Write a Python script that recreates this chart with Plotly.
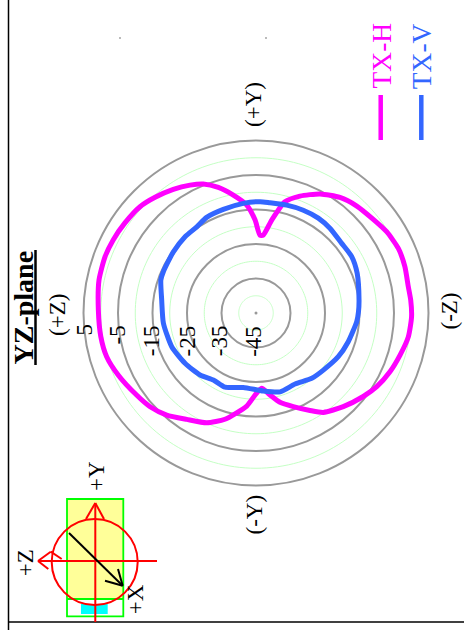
import plotly.graph_objects as go

W, H = 464, 630

tx_h_angle = [5.3, 9.6, 14.6, 20.6, 28.3, 36, 43.3, 51.4, 58.1, 65.6, 72.7, 80.2, 85.2, 91.4, 98.8, 106.3, 113.7,
              121.4, 127.9, 137, 145.9, 151, 158.3, 165, 170.3, 175.7, 180.7, 185.7, 196.3, 204.2, 213.1, 221.2,
              228.5, 235.5, 245.8, 253.7, 261.3, 271, 281.9, 290.4, 297.1, 304.5, 312.5, 318.9, 326.2, 332.7,
              337.8, 343.3, 349.1, 355.1, 359.4, 362.9, 365.3]
tx_h_db = [-22.3, -17.7, -11.7, -8.8, -5.8, -3.6, -2.4, -1.5, -0.4, 0.3, 0.2, -0.2, 0, 0.1, -0.3, -1.5, -2.6,
           -4, -5.6, -7.9, -10.2, -12.7, -15.8, -18.2, -20.9, -23.1, -21.2, -17.9, -12.9, -10.1, -8.2, -5.7,
           -4, -3, -1.2, 0.1, 0.5, 0.7, 1.5, 1.7, 1.5, 1.1, 0.6, -0.5, -1.9, -3.3,
           -4.6, -7, -10.2, -13.6, -18, -22.4, -22.3]

tx_v_angle = [2.1, 7.2, 15.9, 24.7, 33.3, 41.1, 50.9, 59.5, 68.6, 82.8, 89.4, 94.9, 107.3, 118, 130.3, 139.5, 151.2,
              163, 174.7, 189.7, 202.6, 212.5, 222.1, 234.7, 248.2, 263.7, 277.9, 289.2, 294, 306.5, 317.1, 325.5,
              332.7, 342.5, 353.4, 362.1]
tx_v_db = [-12.7, -12.8, -12.5, -12.2, -12.1, -12.4, -13, -12.8, -13.5, -14.9, -15.3, -15.7, -17, -18, -19.4, -20.1, -21.5,
           -21.1, -22.3, -23.1, -21.7, -22, -20.8, -19.8, -18.7, -18, -17.4, -15.8, -15.6, -15.2, -14.8, -14.7,
           -13.8, -13.5, -13, -12.7]

major_rings = [-45, -35, -25, -15, -5, 5]
minor_rings = [-40, -30, -20, -10, 0]
ring_labels = ["5", "-5", "-15", "-25", "-35", "-45"]

MAGENTA = "#ff00ff"
BLUE = "#3366ff"
GREY = "#999999"
PALE = "#c4ffc4"
RED = "#ff0000"
LIME = "#00ff00"
SERIF = "Liberation Serif"


def px(x):
    return x / W


def py(y):
    return 1 - y / H


fig = go.Figure()
ring_theta = list(range(0, 361, 2))
for ring in minor_rings:
    fig.add_trace(go.Scatterpolar(r=[ring] * len(ring_theta), theta=ring_theta, mode="lines",
                                  line=dict(color=PALE, width=1), showlegend=False, hoverinfo="skip"))
fig.add_trace(go.Scatterpolar(r=[-45], theta=[0], mode="markers", marker=dict(color=GREY, size=3), showlegend=False))
fig.add_trace(go.Scatterpolar(r=tx_h_db, theta=tx_h_angle, mode="lines", name="TX-H",
                              line=dict(color=MAGENTA, width=5, shape="spline", smoothing=0.6)))
fig.add_trace(go.Scatterpolar(r=tx_v_db, theta=tx_v_angle, mode="lines", name="TX-V",
                              line=dict(color=BLUE, width=5, shape="spline", smoothing=0.6)))

shapes = []


def line(x0, y0, x1, y1, color, width):
    shapes.append(dict(type="line", xref="paper", yref="paper", x0=px(x0), y0=py(y0), x1=px(x1), y1=py(y1),
                       line=dict(color=color, width=width)))


def rect(x0, y0, x1, y1, fill, color=None, width=0):
    shapes.append(dict(type="rect", xref="paper", yref="paper", x0=px(x0), y0=py(y0), x1=px(x1), y1=py(y1),
                       fillcolor=fill, line=dict(color=color, width=width)))


# frame
line(8.5, 0, 8.5, H, "#000000", 1.5)
line(8.5, 622, W, 622, "#000000", 1.5)
# stray dots
rect(119, 37, 121, 39, "#bbbbbb")
rect(265, 37, 267, 39, "#bbbbbb")
# legend strokes
line(380.7, 95, 380.7, 140, MAGENTA, 4.5)
line(421.3, 95, 421.3, 140, BLUE, 4.5)
# inset diagram
rect(67, 499, 123.3, 599, "#ffff99")
rect(81, 604, 107.7, 614, "#00ffff")
rect(67, 499, 123.3, 616.3, "rgba(0,0,0,0)", LIME, 1.8)
line(67, 599, 123.3, 599, LIME, 1.8)
shapes.append(dict(type="circle", xref="paper", yref="paper", x0=px(51.7), x1=px(137.7), y0=py(519), y1=py(605),
                   line=dict(color=RED, width=2)))
line(95.3, 503, 95.3, 622, RED, 2)
line(38, 561, 157, 561, RED, 2)
line(95.3, 503, 86, 519, RED, 2)
line(95.3, 503, 104, 519, RED, 2)
line(38, 561, 50.7, 551.7, RED, 2)
line(50.7, 551.7, 61.7, 559, RED, 2)
line(38, 561, 48.3, 569, RED, 2)
line(69, 533, 122.7, 585.7, "#000000", 2)
line(122.7, 585.7, 105, 580.7, "#000000", 2)
line(122.7, 585.7, 118, 569, "#000000", 2)
# title underline
line(35.5, 250, 35.5, 365, "#000000", 2.5)

annotations = []


def label(text, x, y, size, color="#000000"):
    annotations.append(dict(text=text, xref="paper", yref="paper", x=px(x), y=py(y), xanchor="center",
                            yanchor="middle", showarrow=False, textangle=-90,
                            font=dict(family=SERIF, size=size, color=color)))


label("<b>YZ-plane</b>", 22.5, 308, 28)
label("(+Z)", 57, 315, 23)
label("(-Z)", 448.5, 311, 23)
label("(+Y)", 253.5, 104.5, 23)
label("(-Y)", 253.5, 515, 23)
label("TX-H", 380.5, 56, 27.5, MAGENTA)
label("TX-V", 421.2, 56, 27.5, BLUE)
label("+Y", 96, 476, 23)
label("+Z", 25.2, 563, 23)
label("+X", 135.2, 599, 23)
for text, x, y in zip(ring_labels, [83.5, 116.5, 151.2, 186.5, 219.2, 252.8], [330, 335, 341, 341, 341, 341]):
    label(text, x, y, 23)

fig.update_layout(
    width=W, height=H, margin=dict(l=0, r=0, t=0, b=0), paper_bgcolor="white", plot_bgcolor="white",
    showlegend=False, shapes=shapes, annotations=annotations,
    polar=dict(
        domain=dict(x=[px(83.5), px(428.5)], y=[py(485.5), py(140.5)]),
        bgcolor="white",
        radialaxis=dict(range=[major_rings[0], major_rings[-1]], tickvals=major_rings, showticklabels=False,
                        ticks="", showline=False, gridcolor=GREY, gridwidth=2),
        angularaxis=dict(direction="clockwise", rotation=90, showgrid=False, showticklabels=False, ticks="",
                         linecolor=GREY, linewidth=2),
    ),
)
fig.write_html("out.html", config=dict(displayModeBar=False), post_script="document.body.style.margin='0';")
